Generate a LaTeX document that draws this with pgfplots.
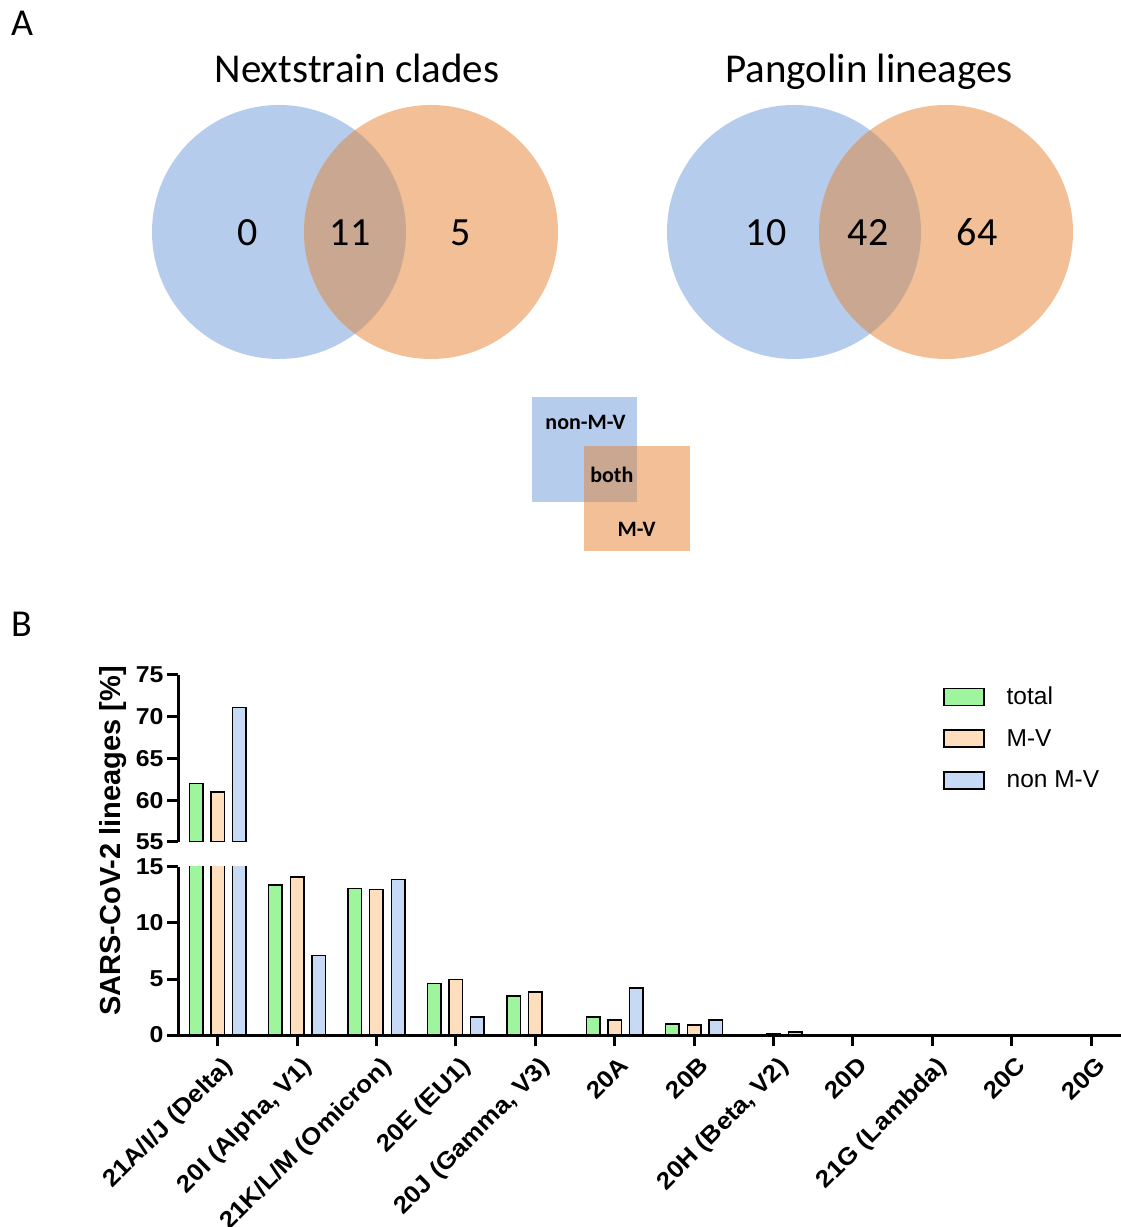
\documentclass[border=0pt]{standalone}
\usepackage{pgfplots}
\pgfplotsset{compat=1.18}
\usepackage{pgfplotstable}
\usepackage{fontspec}
\setmainfont{Liberation Sans}
\newfontfamily\vennfont{Carlito}
\newfontfamily\tickfont[FakeStretch=1.08]{Liberation Sans}
\definecolor{vblue}{RGB}{182,204,236}
\definecolor{vorange}{RGB}{242,191,150}
\definecolor{vboth}{RGB}{201,167,144}
\definecolor{bgreen}{RGB}{158,245,158}
\definecolor{bpeach}{RGB}{255,222,190}
\definecolor{bblue}{RGB}{198,218,245}

% lineage shares [%]: total, M-V, non M-V
\pgfplotstableread{
x total mv nonmv
0 62.0 61.0 71.1
1 13.4 14.1 7.1
2 13.1 13.0 13.9
3 4.6 4.95 1.6
4 3.5 3.85 0
5 1.6 1.35 4.2
6 1.0 0.9 1.35
7 0.05 0.1 0.25
8 0 0 0
9 0 0 0
10 0 0 0
11 0 0 0
}\lineages
% the only group that reaches the upper (broken) segment
\pgfplotstableread{
x total mv nonmv
0 62.0 61.0 71.1
}\delta

\pgfplotsset{
  barbase/.style={
    scale only axis, anchor=south west,
    width=943pt,
    xmin=-0.5, xmax=11.377,
    ybar, bar width=13.5pt,
    axis line style={line width=3pt},
    every tick/.style={black, line width=3pt},
    major tick length=11pt, tick align=outside,
    /pgf/number format/assume math mode=true,
    ticklabel style={font=\tickfont\bfseries\fontsize{23}{25}\selectfont},
  },
}

\begin{document}
\begin{tikzpicture}[x=1pt,y=1pt]
\useasboundingbox (0,0) rectangle (1121,1227);

% ---- Panel A: Venn diagrams ----
\node[anchor=base west, inner sep=0pt, font=\vennfont\fontsize{38}{42}\selectfont] at (11,1191.5) {A};
\node[anchor=base west, inner sep=0pt, font=\vennfont\fontsize{38}{42}\selectfont] at (11,590.5) {B};

\node[anchor=base, inner sep=0pt, font=\vennfont\fontsize{41}{46}\selectfont] at (357,1144) {Nextstrain clades};
\node[anchor=base, inner sep=0pt, font=\vennfont\fontsize{41}{46}\selectfont] at (869,1144) {Pangolin lineages};

% left Venn
\fill[vblue] (279,995) circle[radius=127];
\fill[vorange] (431,995) circle[radius=127];
\begin{scope}
  \clip (279,995) circle[radius=127];
  \fill[vboth] (431,995) circle[radius=127];
\end{scope}
% right Venn
\fill[vblue] (794,995) circle[radius=127];
\fill[vorange] (946,995) circle[radius=127];
\begin{scope}
  \clip (794,995) circle[radius=127];
  \fill[vboth] (946,995) circle[radius=127];
\end{scope}

\begin{scope}[every node/.style={anchor=base, inner sep=0pt, font=\vennfont\fontsize{40}{44}\selectfont}]
  \node at (248,981.5) {0};
  \node at (350,981.5) {11};
  \node at (461,981.5) {5};
  \node at (766,981.5) {10};
  \node at (868,981.5) {42};
  \node at (977,981.5) {64};
\end{scope}

% key squares
\fill[vblue] (532,725) rectangle (637,830);
\fill[vorange] (584,676) rectangle (690,781);
\fill[vboth] (584,725) rectangle (637,781);
\begin{scope}[every node/.style={anchor=base, inner sep=0pt, font=\vennfont\bfseries\fontsize{22}{25}\selectfont}]
  \node at (585.5,797) {non-M-V};
  \node at (611.8,744) {both};
  \node at (636.7,690.5) {M-V};
\end{scope}

% ---- Panel B: bar chart ----
\node[rotate=90, anchor=center, inner sep=0pt, font=\bfseries\fontsize{29}{31}\selectfont] at (113,386) {SARS-CoV-2 lineages [\%]};

% lower segment
\begin{axis}[barbase,
  at={(178pt,192pt)}, height=168pt,
  ymin=0, ymax=15,
  axis x line*=bottom, axis y line*=left,
  ytick={0,5,10,15},
  xtick={0,...,11},
  xticklabels={{21A/I/J (Delta)},{20I (Alpha, V1)},{21K/L/M (Omicron)},{20E (EU1)},{20J (Gamma, V3)},{20A},{20B},{20H (Beta, V2)},{20D},{21G (Lambda)},{20C},{20G}},
  xticklabel style={rotate=45, anchor=north east, inner sep=2pt,
    xshift=-2pt, yshift=-7pt,
    font=\tickfont\bfseries\fontsize{24}{26}\selectfont},
]
\addplot[bar shift=-21.6pt, fill=bgreen, draw=black, line width=1.5pt] table[x=x,y=total]{\lineages};
\addplot[bar shift=0pt, fill=bpeach, draw=black, line width=1.5pt] table[x=x,y=mv]{\lineages};
\addplot[bar shift=21.6pt, fill=bblue, draw=black, line width=1.5pt] table[x=x,y=nonmv]{\lineages};
\end{axis}

% upper segment
\begin{axis}[barbase,
  at={(178pt,385pt)}, height=167pt,
  ymin=55, ymax=75,
  axis x line=none, axis y line*=left,
  ytick={55,60,...,75}, xtick=\empty,
  legend image code/.code={\draw[#1, line width=1.5pt] (0pt,-1pt) rectangle (40pt,16pt); \path (62pt,0pt);},
  legend cell align=left,
  legend style={at={(0.8112,0.93)}, anchor=north west, draw=none, fill=none,
    inner sep=0pt, row sep=23pt,
    font=\fontsize{24.5}{26}\selectfont,
    nodes={inner sep=0pt, anchor=base west}},
]
\addplot[bar shift=-21.6pt, fill=bgreen, draw=black, line width=1.5pt] table[x=x,y=total]{\delta};
\addplot[bar shift=0pt, fill=bpeach, draw=black, line width=1.5pt] table[x=x,y=mv]{\delta};
\addplot[bar shift=21.6pt, fill=bblue, draw=black, line width=1.5pt] table[x=x,y=nonmv]{\delta};
\legend{total,M-V,non M-V}
\end{axis}
\end{tikzpicture}
\end{document}
